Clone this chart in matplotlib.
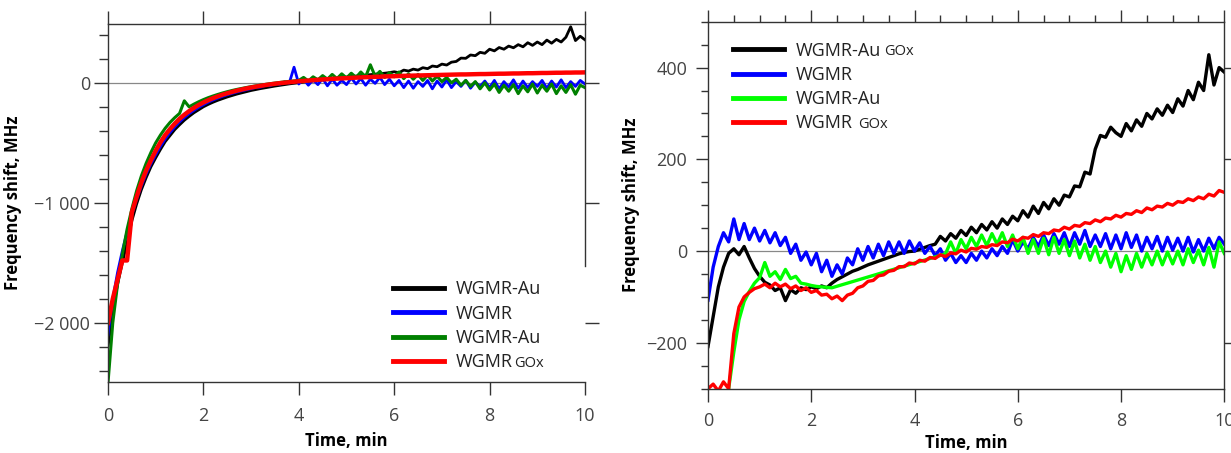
import numpy as np
import matplotlib
matplotlib.use('Agg')
import matplotlib.pyplot as plt
from matplotlib.ticker import MultipleLocator

plt.rcParams['font.family'] = ['Open Sans', 'DejaVu Sans']

# time, min (one reading every 0.1 min)
t = np.arange(101) / 10

# ---- left panel, frequency shift in MHz ----
left_black = [-2200, -1900, -1680, -1500, -1330, -1150, -1010, -890, -790, -700,
              -625, -555, -490, -440, -390, -350, -312, -280, -250, -225,
              -200, -180, -162, -146, -132, -118, -106, -94, -84, -74,
              -64, -56, -48, -41, -34, -27, -21, -15, -9, -4,
              1, 6, 11, 16, 20, 25, 30, 34, 38, 43,
              48, 52, 56, 60, 64, 68, 72, 76, 80, 85,
              92, 84, 106, 98, 114, 106, 126, 118, 140, 134,
              156, 148, 172, 178, 206, 204, 232, 226, 254, 246,
              280, 266, 294, 280, 306, 292, 318, 300, 334, 312,
              340, 318, 356, 330, 362, 340, 380, 467, 352, 388,
              358]
left_blue = [-2100, -1800, -1580, -1400, -1240, -1100, -970, -860, -760, -675,
             -600, -530, -468, -415, -368, -326, -290, -258, -230, -205,
             -183, -162, -144, -128, -113, -100, -88, -77, -67, -58,
             -49, -38, -36, -22, -24, -6, -12, 8, -2, 130,
             -10, 30, -20, 25, -15, 35, -25, 30, -20, 20,
             -15, 40, -10, 35, -20, 30, -5, 45, -15, 30,
             -25, 20, -40, 15, -45, 10, -30, 20, -50, 15,
             -35, 25, -40, 10, -30, 20, -45, 5, -30, 15,
             -40, 20, -50, 10, -35, 25, -45, 15, -40, 10,
             -30, 20, -45, 15, -35, 25, -40, 10, -30, 20,
             -10]
left_green = [-2500, -2000, -1680, -1430, -1220, -1050, -900, -775, -670, -580,
              -500, -435, -378, -330, -290, -255, -150, -200, -178, -158,
              -140, -124, -110, -97, -85, -74, -64, -55, -47, -39,
              -32, -25, -19, -13, -7, -2, 3, 8, 12, 16,
              20, 45, 15, 50, 25, 60, 30, 70, 35, 75,
              40, 80, 45, 90, 50, 150, 55, 95, 45, 85,
              50, 90, 35, 75, 30, 70, 20, 65, 15, 55,
              10, 45, 0, 30, -20, 20, -30, 10, -50, 0,
              -60, -10, -80, -20, -70, -15, -90, -25, -75, -10,
              -85, -20, -70, -10, -90, -25, -80, -15, -95, -20,
              -40]
left_red = [-2000, -1800, -1640, -1480, -1480, -1080, -950, -830, -730, -645,
            -565, -495, -435, -385, -340, -300, -266, -236, -209, -185,
            -164, -145, -128, -113, -99, -87, -76, -65, -56, -47,
            -39, -32, -25, -19, -13, -8, -3, 1, 5, 9,
            13, 16, 19, 22, 25, 28, 30, 33, 35, 37,
            39, 41, 43, 45, 47, 48, 50, 51, 53, 54,
            55, 57, 58, 59, 60, 61, 62, 63, 64, 65,
            66, 67, 68, 69, 70, 70, 71, 72, 73, 73,
            74, 75, 76, 76, 77, 78, 78, 79, 80, 80,
            81, 82, 82, 83, 84, 84, 85, 85, 86, 86,
            87]

# ---- right panel ----
right_black = [-208, -143, -78, -35, -5, 5, -8, 10, -15, -38,
               -55, -68, -74, -86, -80, -108, -84, -92, -80, -84,
               -78, -82, -76, -80, -70, -62, -56, -50, -44, -40,
               -35, -30, -26, -22, -18, -14, -10, -6, -3, -1,
               0, 4, 8, 12, 15, 32, 22, 38, 28, 45,
               34, 52, 40, 58, 46, 64, 50, 70, 58, 76,
               66, 88, 74, 98, 82, 106, 92, 114, 100, 122,
               118, 142, 140, 172, 168, 222, 252, 248, 270, 258,
               250, 278, 262, 286, 272, 300, 288, 310, 296, 318,
               302, 332, 316, 350, 330, 368, 350, 428, 362, 400,
               390]
right_blue = [-107, -35, 10, 40, 20, 70, 25, 60, 25, 50,
              22, 45, 18, 40, 12, 30, -5, 15, -20, -2,
              -30, -5, -45, -20, -55, -30, -50, -15, -30, 5,
              -20, 10, -15, 15, -10, 20, -5, 20, -5, 22,
              0, 18, -5, 10, -10, 5, -20, -5, -25, -10,
              -25, -5, -20, 0, -15, 5, -10, 10, -5, 25,
              0, 20, 5, 30, 10, 35, 12, 38, 15, 40,
              10, 40, 15, 45, 10, 35, 10, 38, 5, 35,
              5, 40, 8, 35, 0, 30, 5, 32, 0, 30,
              2, 28, 0, 30, -2, 25, 0, 28, 5, 30,
              15]
# green has no readings between 2.4 and 4.6 min
right_green_t = np.r_[t[4:25], t[46:]]
right_green = [-300, -220, -150, -110, -88, -70,
               -58, -25, -55, -45, -62, -40, -60, -55, -70, -72,
               -75, -77, -78, -79, -80,
               -6, 20, -5, 25,
               5, 30, 10, 35, 12, 38, 15, 40, 10, 35,
               5, 30, -5, 25, -5, 28, -8, 30, -5, 25,
               -10, 22, -15, 15, -20, 10, -25, 0, -35, -5,
               -45, -10, -40, -5, -35, -5, -30, 0, -30, -2,
               -28, 0, -30, 5, -25, 2, -30, 8, -35, 20,
               -5]
right_red = [-300, -290, -305, -285, -300, -180, -122, -100, -90, -82,
             -78, -72, -80, -70, -78, -72, -82, -76, -86, -80,
             -90, -86, -96, -94, -104, -98, -108, -96, -92, -80,
             -76, -66, -64, -54, -52, -44, -42, -34, -34, -26,
             -28, -20, -22, -14, -16, -8, -12, -4, -6, 2,
             -2, 6, 4, 10, 8, 14, 12, 20, 18, 26,
             22, 30, 28, 36, 32, 40, 38, 46, 44, 52,
             48, 56, 54, 62, 60, 68, 64, 72, 70, 78,
             74, 82, 80, 88, 84, 94, 90, 98, 96, 104,
             100, 108, 106, 114, 110, 118, 114, 124, 120, 132,
             128]

xticks = [0, 2, 4, 6, 8, 10]
left_yticks = [-2000, -1000, 0]
left_yticklabels = ['\u22122 000', '\u22121 000', '0']
right_yticks = [-200, 0, 200, 400]
right_yticklabels = ['\u2212200', '0', '200', '400']

left_names = ['WGMR-Au', 'WGMR', 'WGMR-Au', 'WGMR']
left_suffix = ['', '', '', 'GOx']
right_names = ['WGMR-Au', 'WGMR', 'WGMR-Au', 'WGMR']
right_suffix = ['GOx', '', '', 'GOx']

W, H = 1231, 453
fig = plt.figure(figsize=(W / 100, H / 100), dpi=100)

# axes boxes from pixel positions
axL = fig.add_axes([108 / W, 1 - 381.7 / H, 477 / W, 357.7 / H])
axR = fig.add_axes([708 / W, 1 - 388.7 / H, 516.3 / W, 367 / H])

spine_col = '#333333'
tick_col = '#444444'

# left panel
for y, c, lw in [(left_black, 'black', 2), (left_blue, '#0000ff', 2),
                 (left_green, '#008000', 2.2), (left_red, '#ff0000', 3.2)]:
    axL.plot(t, y, color=c, lw=lw)
axL.axhline(0, color='#888888', lw=0.9, zorder=0)
axL.set_xlim(0, 10)
axL.set_ylim(-2490, 490)
axL.set_xticks(xticks)
axL.set_yticks(left_yticks)
axL.set_yticklabels(left_yticklabels)
axL.yaxis.set_minor_locator(MultipleLocator(200))
axL.tick_params(axis='x', which='major', direction='out', length=9.4, width=1,
                pad=9, top=True, labelsize=13, labelcolor=tick_col, color=spine_col)
axL.tick_params(axis='y', which='major', direction='out', length=10, width=1,
                pad=3, right=True, labelsize=13, labelcolor=tick_col, color=spine_col)
axL.tick_params(axis='y', which='minor', direction='out', length=6.5, width=1,
                left=True, right=False, color=spine_col)
axL.spines['right'].set_bounds(-1530, 490)

# right panel
for tt, y, c in [(t, right_black, 'black'), (t, right_blue, '#0000ff'),
                 (right_green_t, right_green, '#00ff00'), (t, right_red, '#ff0000')]:
    axR.plot(tt, y, color=c, lw=2.4)
axR.axhline(0, color='#888888', lw=0.9, zorder=0)
axR.set_xlim(0, 10)
axR.set_ylim(-300, 500)
axR.set_xticks(xticks)
axR.xaxis.set_minor_locator(MultipleLocator(0.5))
axR.set_yticks(right_yticks)
axR.set_yticklabels(right_yticklabels)
axR.yaxis.set_minor_locator(MultipleLocator(50))
axR.tick_params(axis='x', which='major', direction='out', length=9, width=1,
                pad=7.5, top=True, labelsize=13, labelcolor=tick_col, color=spine_col)
axR.tick_params(axis='x', which='minor', direction='out', length=4.8, width=1,
                top=True, bottom=False, color=spine_col)
axR.tick_params(axis='y', which='major', direction='out', length=8.6, width=1,
                pad=6.5, right=True, labelsize=13, labelcolor=tick_col, color=spine_col)
axR.tick_params(axis='y', which='minor', direction='out', length=5, width=1,
                left=True, right=False, color=spine_col)

for ax in (axL, axR):
    for s in ax.spines.values():
        s.set_color(spine_col)
        s.set_linewidth(1)
    ax.set_xlabel('Time, min', fontsize=12, fontweight='bold')
    ax.set_ylabel('Frequency shift, MHz', fontsize=12, fontweight='bold')

axL.xaxis.set_label_coords(0.5, -0.14)
axL.yaxis.set_label_coords(-0.18, 0.5)
axR.xaxis.set_label_coords(0.5, -0.124)
axR.yaxis.set_label_coords(-0.132, 0.5)

legL = axL.legend(axL.get_lines()[:4], left_names, loc='upper left',
                  bbox_to_anchor=(0.5975, 0.283), frameon=False, fontsize=13,
                  handlelength=2.8, handletextpad=0.65, labelspacing=0.35,
                  borderpad=0, borderaxespad=0)
legR = axR.legend(axR.get_lines()[:4], right_names, loc='upper left',
                  bbox_to_anchor=(0.0484, 0.946), frameon=False, fontsize=13,
                  handlelength=2.8, handletextpad=0.7, labelspacing=0.35,
                  borderpad=0, borderaxespad=0)
for leg in (legL, legR):
    for h in leg.legend_handles:
        h.set_linewidth(3.5)
    for txt in leg.get_texts():
        txt.set_color('#222222')

# smaller "GOx" after some legend names
gaps = {(0, 3): 2, (1, 0): 3, (1, 3): 5}
fig.canvas.draw()
inv = fig.transFigure.inverted()
for k, (leg, sufs) in enumerate([(legL, left_suffix), (legR, right_suffix)]):
    for i, (txt, suf) in enumerate(zip(leg.get_texts(), sufs)):
        if suf:
            bb = txt.get_window_extent()
            x, y = inv.transform((bb.x1 + gaps[(k, i)], bb.y0 + 4.5))
            fig.text(x, y, suf, fontsize=10.5, color='#222222', va='baseline')

fig.savefig('out.png', dpi=100)
